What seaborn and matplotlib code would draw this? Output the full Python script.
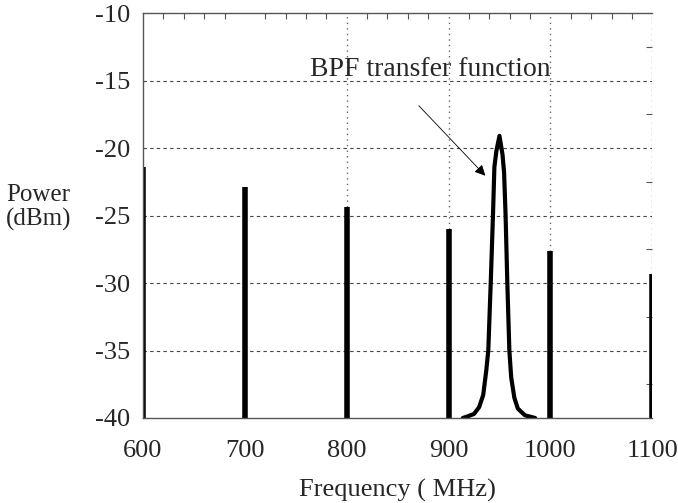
import matplotlib
matplotlib.use("Agg")
import matplotlib.pyplot as plt
from matplotlib.ticker import MultipleLocator
import seaborn as sns
import pandas as pd

# Tonos de entrada (frecuencia en MHz, potencia en dBm)
tone_freqs = [600, 700, 800, 900, 1000, 1100]
tone_power = [-21.4, -22.9, -24.4, -26.0, -27.6, -29.3]

# Funcion de transferencia del BPF, leida a ojo del grafico
bpf_freq = [914, 918, 925, 930, 934, 937, 939, 941.4, 943.6, 945, 947, 950,
            953, 954.5, 956, 957.7, 959.7, 961.5, 964.6, 968, 975, 985]
bpf_power = [-40, -39.9, -39.7, -39.2, -38.3, -36.5, -35, -30, -25, -21.4, -20.2, -19.1,
             -20.5, -21.8, -25, -30, -35, -37, -38.5, -39.3, -39.8, -40]

bpf = pd.DataFrame({"freq": bpf_freq, "power": bpf_power})

sns.set_style("white")
plt.rcParams["font.family"] = ["Liberation Serif", "DejaVu Serif"]
plt.rcParams["axes.unicode_minus"] = False

fig = plt.figure(figsize=(6.78, 5.03), dpi=100)
ax = fig.add_axes([0.211, 0.169, 0.751, 0.805])

ax.vlines(tone_freqs, -40, tone_power, colors="black", linewidth=4)
sns.lineplot(data=bpf, x="freq", y="power", sort=False, color="black",
             linewidth=3, ax=ax)

ax.set_xlim(600, 1100)
ax.set_ylim(-40, -10)
ax.xaxis.set_major_locator(MultipleLocator(100))
ax.yaxis.set_major_locator(MultipleLocator(5))
ax.xaxis.set_minor_locator(MultipleLocator(20))
ax.yaxis.set_minor_locator(MultipleLocator(2.5))

# rejilla punteada (sin lineas en 600 y 700)
for y in [-15, -20, -25, -30, -35]:
    ax.axhline(y, color="#444444", linestyle=(0, (3, 3)), linewidth=0.8, zorder=0)
for x in [800, 900, 1000, 1100]:
    ax.axvline(x, color="#666666", linestyle=(0, (1, 3)), linewidth=1.0, zorder=0)

ax.tick_params(which="both", direction="in", top=True, right=True, labelsize=19)
ax.tick_params(which="major", length=0)
ax.tick_params(axis="x", which="major", pad=16)
ax.tick_params(axis="y", which="major", pad=9)
ax.tick_params(which="minor", length=4, width=0.8, color="#555555")

for side in ["left", "bottom", "top"]:
    ax.spines[side].set_color("#555555")
    ax.spines[side].set_linewidth(1)
ax.spines["right"].set_visible(False)

ax.set_xlabel("Frequency ( MHz)", fontsize=19, labelpad=12)
ax.set_ylabel("Power\n(dBm)", fontsize=18, rotation=0, va="center", linespacing=1.15)
ax.yaxis.set_label_coords(-0.205, 0.52)

ax.annotate("BPF transfer function", xy=(938, -22.2), xytext=(882, -14.2),
            fontsize=20, ha="center", va="center",
            arrowprops=dict(arrowstyle="-|>", color="black", linewidth=0.6,
                            relpos=(0.36, 0.0), shrinkA=20, shrinkB=2,
                            mutation_scale=16))

fig.savefig("out.png", dpi=100)
